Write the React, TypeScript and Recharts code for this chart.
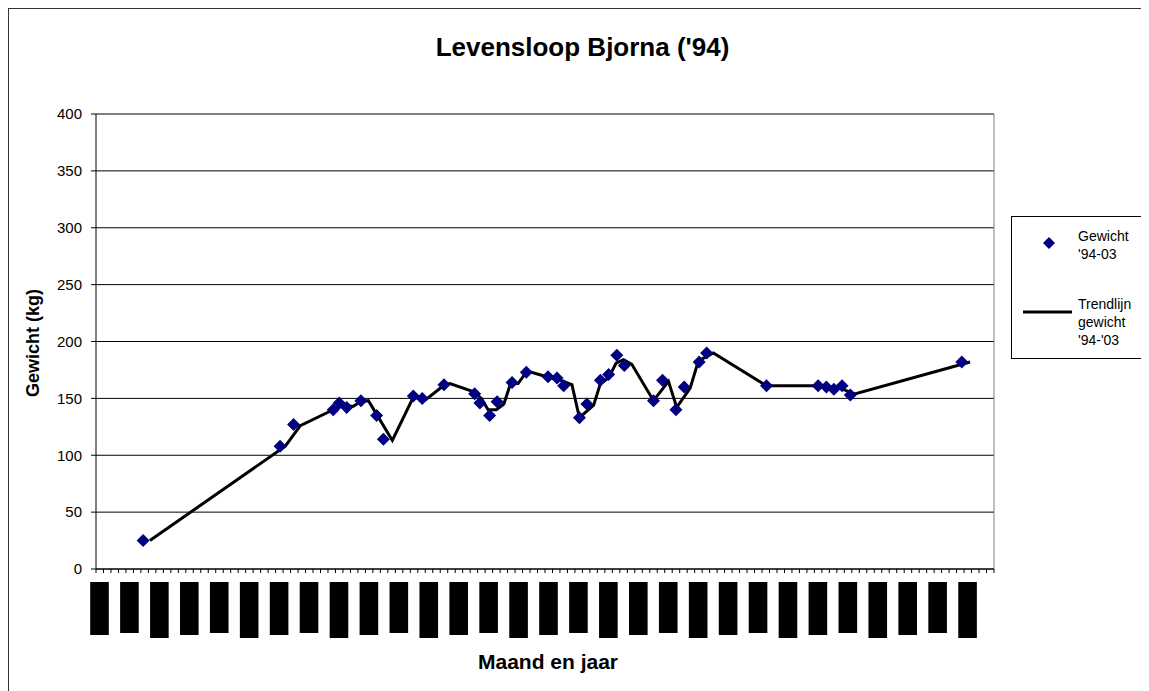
import React from "react";
import {
  ComposedChart,
  Scatter,
  Line,
  XAxis,
  YAxis,
  CartesianGrid,
  ReferenceLine,
} from "recharts";

// weigh moments, in months counted from jan '94
const weighMonths = [
  6.3, 24.6, 26.4, 31.7, 32.5, 33.5, 35.4, 37.5, 38.4, 42.4, 43.6, 46.5, 50.6,
  51.3, 52.6, 53.6, 55.6, 57.5, 60.4, 61.6, 62.5, 64.6, 65.6, 67.4, 68.5, 69.6,
  70.6, 74.5, 75.7, 77.5, 78.6, 80.6, 81.6, 89.6, 96.5, 97.6, 98.6, 99.7, 100.8,
  115.7,
];
const weights = [
  25, 108, 127, 140, 146, 142, 148, 135, 114, 152, 150, 162, 154, 146, 135, 147,
  164, 173, 169, 168, 161, 133, 145, 166, 171, 188, 179, 148, 166, 140, 160, 182,
  190, 161, 161, 160, 158, 161, 153, 182,
];

const trendMonths = [
  7.2, 25.3, 27.3, 31.7, 32.8, 34.4, 35.3, 36.4, 39.6, 42.4, 44.1, 46.6, 47.3,
  50.4, 51.5, 52.4, 53.5, 54.5, 55.4, 56.4, 57.5, 58.2, 60.2, 62.0, 63.6, 64.6,
  66.5, 67.4, 68.5, 69.5, 70.5, 71.6, 74.5, 76.5, 77.6, 79.4, 80.5, 82.5, 89.6,
  96.1, 99.4, 101.4, 116.8,
];
const trendWeights = [
  25, 108, 126, 140, 143, 143, 147, 148, 113, 151, 149, 162, 163, 156, 150, 140,
  140, 145, 163, 163, 173, 173, 169, 166, 162, 133, 144, 163, 168, 181, 184, 180,
  148, 165, 142, 159, 183, 190, 161, 161, 159, 154, 182,
];

const monthNames = ["jan", "feb", "mrt", "apr", "mei", "jun", "jul", "aug", "sep", "okt", "nov", "dec"];
const yTicks = [0, 50, 100, 150, 200, 250, 300, 350, 400];
const monthTicks = Array.from({ length: 121 }, (_, i) => i);

const points = weighMonths.map((m, i) => ({ m, v: weights[i] }));
const trend = trendMonths.map((m, i) => ({ m, v: trendWeights[i] }));

const FONT = "'Liberation Sans', Arial, sans-serif";

const Diamond = (props: any) => {
  const { cx, cy } = props;
  const r = 6.5;
  return (
    <path
      d={`M${cx},${cy - r}L${cx + r},${cy}L${cx},${cy + r}L${cx - r},${cy}Z`}
      fill="#000080"
    />
  );
};

// date labels come out as solid black blocks in the original
const MonthTick = (props: any) => {
  const { x, y, payload } = props;
  const v = payload.value as number;
  if (v % 4 !== 0 || v >= 120) return null;
  const label = `${monthNames[v % 12]}-${String(94 + Math.floor(v / 12)).slice(-2)}`;
  const h = [53, 51, 56][(v / 4) % 3];
  const cx = x + 3.5;
  return (
    <g>
      <rect x={cx - 9.3} y={y} width={18.6} height={h} fill="#000" />
      <text
        x={cx}
        y={y}
        transform={`rotate(-90 ${cx} ${y})`}
        textAnchor="end"
        dominantBaseline="central"
        fontSize={12}
        fill="#000"
      >
        {label}
      </text>
    </g>
  );
};

export default function App() {
  return (
    <div style={{ position: "relative", width: 1141, height: 683, fontFamily: FONT }}>
      <div
        style={{
          position: "absolute",
          left: -1,
          top: -1,
          width: 1142,
          height: 684,
          borderLeft: "2px solid #333",
          borderTop: "2px solid #333",
          boxSizing: "border-box",
        }}
      />
      <div
        style={{
          position: "absolute",
          left: 0,
          width: 1149,
          top: 24,
          textAlign: "center",
          fontWeight: "bold",
          fontSize: 26,
        }}
      >
        Levensloop Bjorna ('94)
      </div>
      <ComposedChart
        width={1141}
        height={683}
        margin={{ top: 106, right: 155, left: 0, bottom: 22 }}
        style={{ fontFamily: FONT }}
      >
        <CartesianGrid horizontal vertical={false} stroke="#000" strokeWidth={1} />
        <XAxis
          type="number"
          dataKey="m"
          domain={[0, 120]}
          ticks={monthTicks}
          interval={0}
          height={100}
          tickSize={4}
          tickMargin={9}
          stroke="#000"
          tick={<MonthTick />}
          allowDataOverflow
        />
        <YAxis
          type="number"
          dataKey="v"
          domain={[0, 400]}
          ticks={yTicks}
          width={88}
          tickSize={5}
          tickMargin={9}
          stroke="#000"
          tick={{ fill: "#000", fontSize: 15 }}
        />
        <ReferenceLine y={400} stroke="#808080" />
        <ReferenceLine x={120} stroke="#808080" />
        <Scatter
          name="Gewicht '94-03"
          data={points}
          dataKey="v"
          shape={<Diamond />}
          isAnimationActive={false}
        />
        <Line
          name="Trendlijn gewicht '94-'03"
          data={trend}
          dataKey="v"
          type="linear"
          stroke="#000"
          strokeWidth={3}
          dot={false}
          activeDot={false}
          isAnimationActive={false}
        />
      </ComposedChart>
      <div
        style={{
          position: "absolute",
          left: 25,
          top: 335,
          transform: "translate(-50%, -50%) rotate(-90deg)",
          fontWeight: "bold",
          fontSize: 18,
          whiteSpace: "nowrap",
        }}
      >
        Gewicht (kg)
      </div>
      <div
        style={{
          position: "absolute",
          left: 540,
          top: 654,
          transform: "translate(-50%, -50%)",
          fontWeight: "bold",
          fontSize: 21,
          whiteSpace: "nowrap",
        }}
      >
        Maand en jaar
      </div>
      <div
        style={{
          position: "absolute",
          left: 1003,
          top: 208,
          width: 135,
          height: 143,
          border: "1px solid #000",
          boxSizing: "border-box",
          background: "#fff",
          fontSize: 14,
          lineHeight: "18px",
        }}
      >
        <svg style={{ position: "absolute", left: 0, top: 0 }} width={133} height={141}>
          <path d="M37,20L43,26L37,32L31,26Z" fill="#000080" />
          <line x1={11} y1={95} x2={60} y2={95} stroke="#000" strokeWidth={3} />
        </svg>
        <div style={{ position: "absolute", left: 66, top: 10 }}>
          Gewicht
          <br />
          '94-03
        </div>
        <div style={{ position: "absolute", left: 66, top: 78 }}>
          Trendlijn
          <br />
          gewicht
          <br />
          '94-'03
        </div>
      </div>
    </div>
  );
}
